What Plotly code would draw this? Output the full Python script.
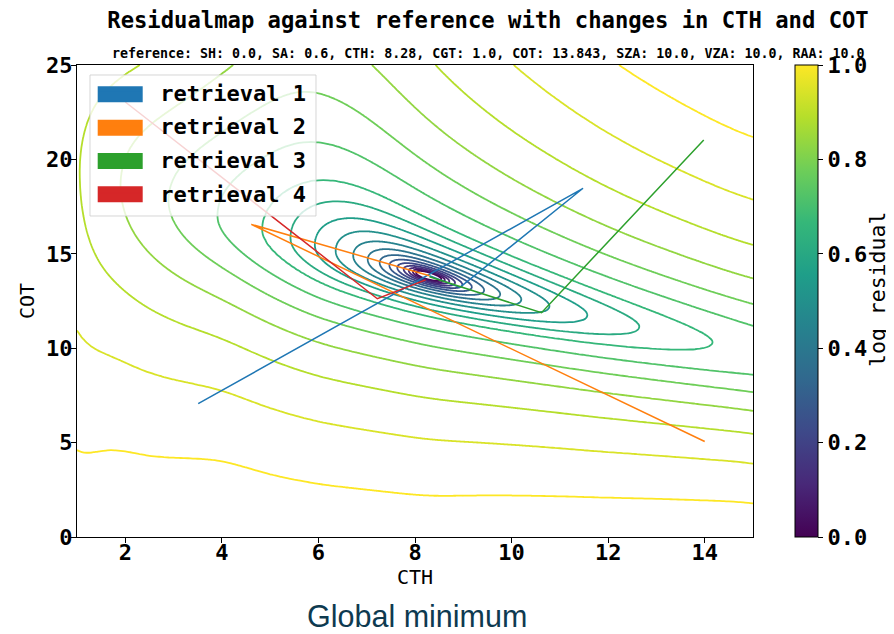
import numpy as np
import plotly.graph_objects as go

# ---------------- data ----------------
CTH_REF = 8.28
COT_REF = 13.843

# retrieval paths (CTH, COT)
ret1_cth = [3.51, 11.48, 8.93, 8.30]
ret1_cot = [7.06, 18.47, 13.22, 13.84]
ret2_cth = [14.0, 4.61, 8.30]
ret2_cot = [5.06, 16.56, 13.84]
ret3_cth = [13.98, 10.62, 8.30]
ret3_cot = [21.03, 11.88, 13.78]
ret4_cth = [2.0, 7.22, 8.22]
ret4_cot = [23.04, 12.62, 13.62]
ret_names = ["retrieval 1", "retrieval 2", "retrieval 3", "retrieval 4"]
ret_colors = ["#1f77b4", "#ff7f0e", "#2ca02c", "#d62728"]

# residual valley (COT of minimum residual for each CTH)
valley_cth = [1.0, 8.28, 11.34, 14.15, 15.0]
valley_cot = [19.36, 13.843, 11.91, 10.30, 9.91]
# residual steepness above the valley, estimated from contour spacing
above_cth = [1.0, 2.4, 4.15, 5.5, 7.0, 8.41, 10.04, 12.2, 15.0]
above_val = [2.3, 2.0, 1.31, 0.95, 1.1, 1.52, 1.94, 2.45, 2.97]
# residual steepness below the valley (near / far) and transition distance
below_cth = [1.0, 1.6, 2.5, 4.0, 5.0, 6.0, 8.3, 12.0, 15.0]
below_g0 = [1.85, 2.2, 2.3, 2.2, 1.6, 1.1, 1.15, 1.7, 2.3]
below_ginf = [1.85, 2.2, 2.3, 2.65, 2.8, 3.0, 3.3, 4.2, 5.0]
below_B = [2.0, 2.0, 2.5, 3.0, 3.0, 3.0, 3.0, 3.5, 4.0]

x_ticks = [2, 4, 6, 8, 10, 12, 14]
y_ticks = [0, 5, 10, 15, 20, 25]
cbar_ticks = [0.0, 0.2, 0.4, 0.6, 0.8, 1.0]

# ---------------- residual field ----------------
cth = np.unique(np.concatenate([np.linspace(1, 6.5, 56), np.linspace(6.5, 10.5, 201),
                                np.linspace(10.5, 15, 46)]))
cot = np.unique(np.concatenate([np.linspace(0, 11.5, 116), np.linspace(11.5, 16.5, 251),
                                np.linspace(16.5, 25, 86)]))


def smooth_interp(xq, xp, fp, width=0.6):
    fine = np.linspace(min(xp) - 3 * width, max(xp) + 3 * width, 2000)
    vals = np.interp(fine, xp, fp)
    dx = fine[1] - fine[0]
    n = int(3 * width / dx)
    k = np.arange(-n, n + 1) * dx
    ker = np.exp(-0.5 * (k / width) ** 2)
    ker /= ker.sum()
    sm = np.convolve(np.pad(vals, n, mode="edge"), ker, mode="valid")
    return np.interp(xq, fine, sm)


H, T = np.meshgrid(cth, cot)
s = CTH_REF * np.log(H / CTH_REF)
tv = np.polyval(np.polyfit(valley_cth, valley_cot, 2), H)
d = T - tv
ad = np.abs(d)
ca = smooth_interp(cth, above_cth, above_val)[None, :]
g0 = smooth_interp(cth, below_cth, below_g0, 0.35)[None, :]
gi = smooth_interp(cth, below_cth, below_ginf, 0.35)[None, :]
gb = smooth_interp(cth, below_cth, below_B, 0.35)[None, :]
p = np.where(d > 0, ca * d, ad * (g0 + (gi - g0) * ad / (ad + gb)))
R = s ** 2 + p ** 2 + 1e-9
L = np.log(R)
R1, Z1 = 19.7, 0.65
beta_out, beta_in = 0.0743, 0.106
Z = np.where(R > R1, Z1 + beta_out * (L - np.log(R1)), Z1 + beta_in * (L - np.log(R1)))
Z = np.clip(Z, 0, 1)

MONO = "DejaVu Sans Mono"
W, HGT = 886, 626
PW, PH = 676, 472  # plot area in pixels


def px_x(v):  # screen pixel -> paper fraction (plot area starts at 77 px)
    return (v - 77) / PW


def px_y(v):  # screen pixel -> paper fraction (plot area bottom at 537 px)
    return (537 - v) / PH


fig = go.Figure()
fig.add_trace(go.Contour(
    x=cth, y=cot, z=np.round(Z, 4),
    colorscale="Viridis", zmin=0, zmax=1,
    contours=dict(start=0.05, end=0.95, size=0.05, coloring="lines"),
    line=dict(width=1.8), showscale=False, hoverinfo="skip", showlegend=False,
))

paths = [(ret1_cth, ret1_cot), (ret2_cth, ret2_cot), (ret3_cth, ret3_cot), (ret4_cth, ret4_cot)]
for i, ((xs, ys), c, nm) in enumerate(zip(paths, ret_colors, ret_names)):
    fig.add_trace(go.Scatter(x=xs, y=ys, mode="lines", line=dict(color=c, width=1.5),
                             name="\u00a0" + nm, legendgroup=f"g{i}", hoverinfo="skip"))

# colorbar (title is placed as a rotated annotation below)
fig.add_trace(go.Scatter(
    x=[None], y=[None], mode="markers", showlegend=False, hoverinfo="skip",
    marker=dict(color=[0.0], colorscale="Viridis", cmin=0, cmax=1, showscale=True,
                colorbar=dict(x=px_x(795), xanchor="left", xpad=0, ypad=0,
                              thickness=23, len=1, y=0.5, yanchor="middle",
                              outlinecolor="black", outlinewidth=1,
                              ticks="outside", ticklen=5, tickcolor="black",
                              tickvals=cbar_ticks, ticktext=[f"{v:.1f}" for v in cbar_ticks],
                              tickfont=dict(family=MONO, size=22, color="black", weight="bold"))),
))

axis_common = dict(showline=True, mirror=True, linecolor="black", linewidth=1,
                   ticks="outside", ticklen=5, tickcolor="black", showgrid=False,
                   zeroline=False, automargin=False,
                   tickfont=dict(family=MONO, size=22, color="black", weight="bold"))
fig.update_xaxes(range=[1, 15], tickvals=x_ticks, ticklabelstandoff=-9, **axis_common,
                 title=dict(text="CTH", font=dict(family=MONO, size=20, color="black"), standoff=4))
fig.update_yaxes(range=[0, 25], tickvals=y_ticks, ticklabelstandoff=-6, **axis_common,
                 title=dict(text="COT", font=dict(family=MONO, size=20, color="black"), standoff=6))

# legend frame and colour patches (matplotlib-style wide patches)
legend_shapes = [dict(type="rect", xref="paper", yref="paper", layer="above",
                      x0=px_x(90), x1=px_x(316), y0=px_y(216), y1=px_y(75),
                      fillcolor="rgba(255,255,255,0.8)",
                      line=dict(color="rgba(204,204,204,0.8)", width=1))]
for row, c in zip([94.3, 127.7, 161.0, 194.3], ret_colors):
    legend_shapes.append(dict(type="rect", xref="paper", yref="paper", layer="above",
                              x0=px_x(97.7), x1=px_x(142.7), y0=px_y(row + 8), y1=px_y(row - 8),
                              fillcolor=c, line=dict(width=0)))

fig.update_layout(
    width=W, height=HGT,
    margin=dict(l=69, r=W - 69 - PW, t=57, b=HGT - 57 - PH, autoexpand=False),
    plot_bgcolor="white", paper_bgcolor="white",
    title=dict(text="Residualmap against reference with changes in CTH and COT",
               x=480 / W, xanchor="center", y=1 - 12 / HGT, yanchor="middle",
               font=dict(family=MONO, size=22.2, color="black", weight="bold")),
    legend=dict(x=px_x(93), y=px_y(71.5), xanchor="left", yanchor="top",
                bgcolor="rgba(0,0,0,0)", borderwidth=0, itemwidth=44,
                traceorder="grouped", tracegroupgap=2,
                font=dict(family=MONO, size=22, color="black", weight="bold")),
    shapes=legend_shapes,
    annotations=[
        dict(text="reference: SH: 0.0, SA: 0.6, CTH: 8.28, CGT: 1.0, COT: 13.843, SZA: 10.0, VZA: 10.0, RAA: 10.0",
             x=px_x(488), y=px_y(53), xref="paper", yref="paper",
             xanchor="center", yanchor="middle", showarrow=False,
             font=dict(family=MONO, size=13.3, color="black", weight="bold")),
        dict(text="log residual", x=px_x(877), y=px_y(290),
             xref="paper", yref="paper", xanchor="center", yanchor="middle", showarrow=False,
             textangle=-90, font=dict(family=MONO, size=21.5, color="black")),
        dict(text="Global minimum", x=px_x(416.5), y=px_y(616),
             xref="paper", yref="paper", xanchor="center", yanchor="middle", showarrow=False,
             font=dict(family="Liberation Sans", size=30.5, color="#0e3a50")),
    ],
)

fig.write_html("out.html")
